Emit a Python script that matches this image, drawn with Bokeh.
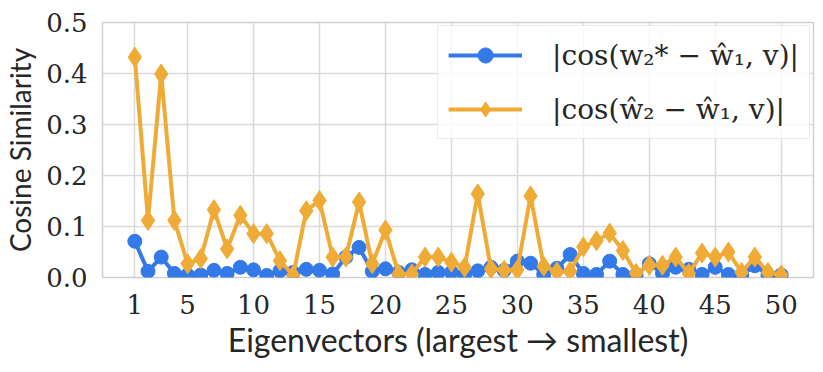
from bokeh.plotting import figure
from bokeh.models import Range1d, FixedTicker, PrintfTickFormatter, Legend, LegendItem
from bokeh.embed import file_html
from bokeh.resources import INLINE

eigen_idx = list(range(1, 51))

cos_star = [0.071, 0.012, 0.040, 0.008, 0.005, 0.005, 0.014, 0.008, 0.020, 0.015,
            0.004, 0.013, 0.010, 0.016, 0.014, 0.007, 0.040, 0.059, 0.012, 0.017,
            0.010, 0.015, 0.006, 0.010, 0.010, 0.006, 0.013, 0.020, 0.014, 0.032,
            0.028, 0.006, 0.018, 0.045, 0.008, 0.006, 0.032, 0.006, 0.005, 0.027,
            0.008, 0.020, 0.016, 0.006, 0.020, 0.006, 0.005, 0.023, 0.005, 0.005]

cos_hat = [0.432, 0.112, 0.399, 0.112, 0.027, 0.037, 0.133, 0.056, 0.122, 0.086,
           0.086, 0.033, 0.004, 0.131, 0.151, 0.040, 0.040, 0.148, 0.027, 0.093,
           0.007, 0.007, 0.040, 0.040, 0.030, 0.020, 0.164, 0.017, 0.014, 0.015,
           0.160, 0.022, 0.011, 0.012, 0.060, 0.072, 0.087, 0.053, 0.008, 0.024,
           0.024, 0.040, 0.008, 0.048, 0.040, 0.050, 0.010, 0.040, 0.010, 0.005]

x_ticks = [1, 5, 10, 15, 20, 25, 30, 35, 40, 45, 50]
y_ticks = [0.0, 0.1, 0.2, 0.3, 0.4, 0.5]

label_star = "|cos(w\u2082* \u2212 \u0175\u2081, v)|"
label_hat = "|cos(\u0175\u2082 \u2212 \u0175\u2081, v)|"

BLUE = "#3479E8"
ORANGE = "#F0AA36"
TEXT = "#262626"
GRID = "#DADADA"

p = figure(width=815, height=366, output_backend="svg", toolbar_location=None,
           x_range=Range1d(-1.45, 52.45), y_range=Range1d(0, 0.5),
           min_border_left=100, min_border_right=2, min_border_top=22, min_border_bottom=89)

p.background_fill_color = "white"
p.border_fill_color = "white"
p.outline_line_color = "#CFCFCF"
p.outline_line_width = 1.5

p.xaxis.ticker = FixedTicker(ticks=x_ticks)
p.yaxis.ticker = FixedTicker(ticks=y_ticks)
p.yaxis.formatter = PrintfTickFormatter(format="%.1f")

for ax in (p.xaxis, p.yaxis):
    ax.axis_line_color = None
    ax.major_tick_line_color = None
    ax.minor_tick_line_color = None
    ax.major_label_text_font = "DejaVu Serif"
    ax.major_label_text_font_size = "26px"
    ax.major_label_text_color = TEXT
    ax.axis_label_text_font = "Lato"
    ax.axis_label_text_font_style = "normal"
    ax.axis_label_text_color = TEXT

p.xaxis.axis_label_text_font_size = "32px"
p.yaxis.axis_label_text_font_size = "28px"
p.xaxis.axis_label = "Eigenvectors (largest\u00a0\u2192\u00a0smallest)"
p.yaxis.axis_label = "Cosine Similarity"
p.xaxis.major_label_standoff = 11
p.yaxis.major_label_standoff = 9
p.xaxis.axis_label_standoff = 3
p.yaxis.axis_label_standoff = 6

p.xgrid.grid_line_color = GRID
p.ygrid.grid_line_color = GRID
p.xgrid.grid_line_width = 1.5
p.ygrid.grid_line_width = 1.5

l1 = p.line(eigen_idx, cos_star, line_color=BLUE, line_width=4)
m1 = p.scatter(eigen_idx, cos_star, marker="circle", size=14, fill_color=BLUE, line_color=BLUE)
l2 = p.line(eigen_idx, cos_hat, line_color=ORANGE, line_width=4)
m2 = p.scatter(eigen_idx, cos_hat, marker="diamond", size=20, fill_color=ORANGE, line_color=ORANGE)

legend = Legend(items=[LegendItem(label=label_star, renderers=[l1, m1]),
                       LegendItem(label=label_hat, renderers=[l2, m2])],
                location="top_right")
legend.margin = 3
legend.padding = 10
legend.spacing = 16
legend.glyph_width = 74
legend.glyph_height = 38
legend.label_height = 38
legend.label_standoff = 30
legend.label_text_font = "DejaVu Serif"
legend.label_text_font_size = "28px"
legend.label_text_color = TEXT
legend.background_fill_color = "white"
legend.background_fill_alpha = 0.8
legend.border_line_color = "#D5D5D5"
legend.border_line_width = 1
p.add_layout(legend)

open("out.html", "w").write(file_html(p, INLINE))
